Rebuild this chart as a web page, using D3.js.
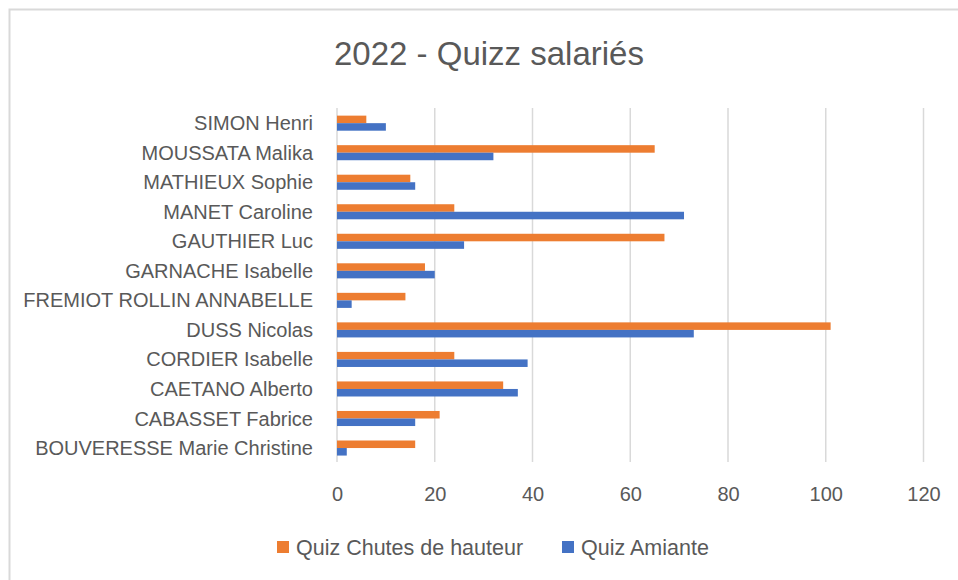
<!DOCTYPE html>
<html><head><meta charset="utf-8">
<script src="https://cdn.jsdelivr.net/npm/d3@7"></script>
<style>
html,body{margin:0;padding:0;background:#fff;}
text{font-family:"Liberation Sans",Arial,sans-serif;fill:#595959;}
</style></head>
<body>
<svg id="chart" width="958" height="580"></svg>
<script>
const title = "2022 - Quizz salariés";
const categories = ["SIMON Henri","MOUSSATA Malika","MATHIEUX Sophie","MANET Caroline","GAUTHIER Luc","GARNACHE Isabelle","FREMIOT ROLLIN ANNABELLE","DUSS Nicolas","CORDIER Isabelle","CAETANO Alberto","CABASSET Fabrice","BOUVERESSE Marie Christine"];
const seriesNames = ["Quiz Chutes de hauteur","Quiz Amiante"];
const chutes = [6,65,15,24,67,18,14,101,24,34,21,16];
const amiante = [10,32,16,71,26,20,3,73,39,37,16,2];
const xTicks = [0,20,40,60,80,100,120];
const colors = ["#ED7D31","#4472C4"];

const svg = d3.select("#chart");
// chart border (cropped at right/bottom)
svg.append("path").attr("d","M9.5,590 V9.5 H970").attr("fill","none").attr("stroke","#d9d9d9").attr("stroke-width",2);

svg.append("text").attr("x",489).attr("y",65).attr("text-anchor","middle")
  .style("font-size","33px").text(title);

const x = d3.scaleLinear().domain([0,120]).range([337,923.5]);
const y = d3.scaleBand().domain(categories).range([108.4,462.8]).paddingInner(0.49).paddingOuter(0.245);
const sub = d3.scaleBand().domain(seriesNames).range([0,y.bandwidth()]);

// gridlines
svg.append("g").selectAll("line").data(xTicks).join("line")
  .attr("x1",d=>x(d)).attr("x2",d=>x(d)).attr("y1",108).attr("y2",462)
  .attr("stroke","#d9d9d9").attr("stroke-width",1.5);

const data = [chutes, amiante];
seriesNames.forEach((s,i)=>{
  svg.append("g").selectAll("rect").data(categories).join("rect")
    .attr("x",x(0)).attr("y",(c)=>y(c)+sub(s))
    .attr("width",(c,j)=>x(data[i][j])-x(0))
    .attr("height",sub.bandwidth())
    .attr("fill",colors[i]);
});

// category labels
const yAxis = d3.axisLeft(y).tickSize(0).tickPadding(0);
const gy = svg.append("g").attr("transform","translate(313,0)").call(yAxis);
gy.select(".domain").remove();
gy.selectAll("text").style("font-size","20px").attr("fill","#595959").attr("dy","0.35em");

// x tick labels
const xAxis = d3.axisBottom(x).tickValues(xTicks).tickSize(0).tickPadding(0);
const gx = svg.append("g").attr("transform","translate(0,494)").call(xAxis);
gx.select(".domain").remove();
gx.selectAll("text").style("font-size","20px").attr("fill","#595959").attr("y",0).attr("dy","0.35em");

// legend
const legendX = [277, 562];
seriesNames.forEach((s,i)=>{
  svg.append("rect").attr("x",legendX[i]).attr("y",541).attr("width",12).attr("height",12).attr("fill",colors[i]);
  svg.append("text").attr("x",legendX[i]+19).attr("y",547).attr("dy","0.36em")
    .style("font-size","21.5px").text(s);
});
</script>
</body></html>
